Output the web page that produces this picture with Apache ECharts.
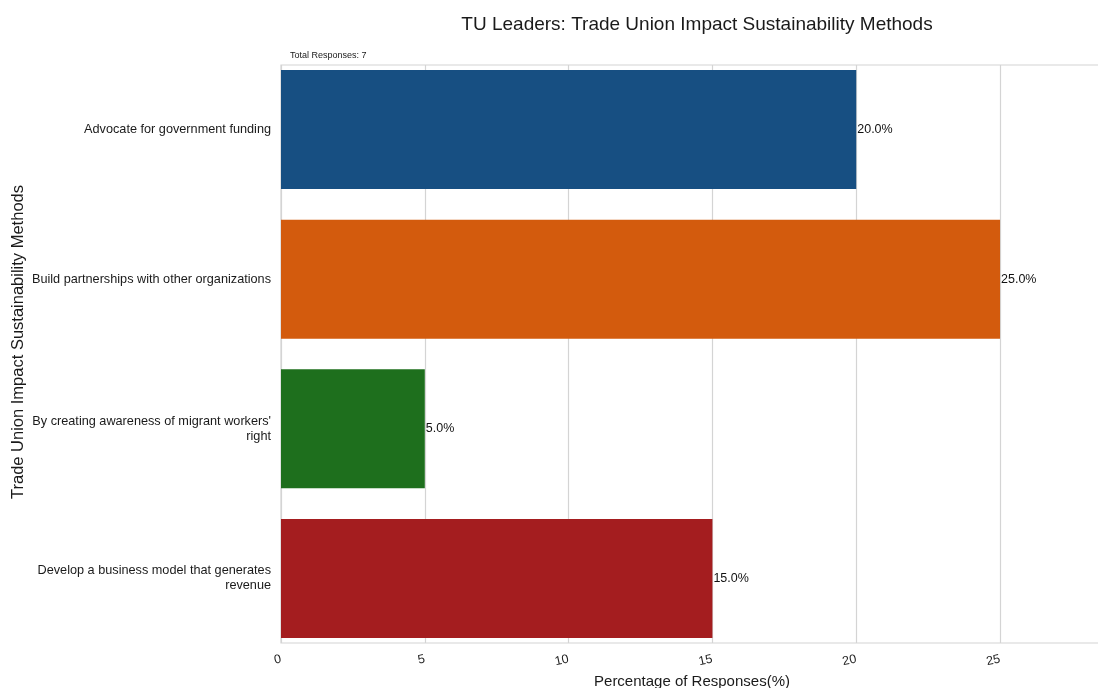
<!DOCTYPE html>
<html>
<head>
<meta charset="utf-8">
<script src="https://cdn.jsdelivr.net/npm/echarts@6/dist/echarts.min.js"></script>
<style>
  html, body { margin: 0; padding: 0; background: #ffffff; }
  #chart { width: 1098px; height: 688px; }
</style>
</head>
<body>
<div id="chart"></div>
<script>
// Survey answers and their share of responses
const methods = [
  'Advocate for government funding',
  'Build partnerships with other organizations',
  "By creating awareness of migrant workers' right",
  'Develop a business model that generates revenue'
];
const percentages = [20.0, 25.0, 5.0, 15.0];
const barColors = ['#174f82', '#d35b0d', '#1e6f1d', '#a41d1f'];
const xTicks = [0, 5, 10, 15, 20, 25];
const totalResponses = 7;

// Wrap long category names onto several lines (word boundaries, max 45 chars)
function wrap(text, width) {
  const words = text.split(' ');
  const lines = [];
  let line = '';
  words.forEach(w => {
    const candidate = line ? line + ' ' + w : w;
    if (candidate.length > width && line) {
      lines.push(line);
      line = w;
    } else {
      line = candidate;
    }
  });
  if (line) lines.push(line);
  return lines.join('\n');
}

const chart = echarts.init(document.getElementById('chart'), null, { renderer: 'canvas' });
const font = 'Liberation Sans, Arial, Helvetica, sans-serif';
const xMax = 28.58;

chart.setOption({
  animation: false,
  backgroundColor: '#ffffff',
  textStyle: { fontFamily: font },
  title: [
    {
      text: 'TU Leaders: Trade Union Impact Sustainability Methods',
      left: 692, top: 10, textAlign: 'center',
      textStyle: { fontSize: 19, fontWeight: 'normal', color: '#1a1a1a', fontFamily: font }
    },
    {
      text: 'Total Responses: ' + totalResponses,
      left: 285, top: 46,
      textStyle: { fontSize: 9, fontWeight: 'normal', color: '#1a1a1a', fontFamily: font }
    }
  ],
  // vertical axis title
  graphic: [{
    type: 'text',
    x: 18, y: 342,
    rotation: Math.PI / 2,
    style: {
      text: 'Trade Union Impact Sustainability Methods',
      fontSize: 16.5, fontFamily: font, fill: '#1a1a1a',
      align: 'center', verticalAlign: 'middle'
    }
  }],
  grid: [
    // frame, gridlines and value ticks
    {
      left: 281, top: 65, right: -5, bottom: 45,
      outerBoundsMode: 'none', containLabel: false,
      show: true, borderColor: '#d4d4d4', borderWidth: 1.2, backgroundColor: 'transparent'
    },
    // bars: categories spaced a little wider than the frame
    {
      left: 281, top: 54.7, right: -5, bottom: 34.7,
      outerBoundsMode: 'none', containLabel: false,
      show: false
    }
  ],
  xAxis: [
    {
      gridIndex: 0,
      type: 'value',
      min: 0, max: xMax, interval: 5,
      name: 'Percentage of Responses(%)',
      nameLocation: 'middle', nameGap: 31,
      nameTextStyle: { fontSize: 15, color: '#1a1a1a', fontFamily: font },
      axisLine: { show: false },
      axisTick: { show: false },
      axisLabel: {
        fontSize: 12.5, color: '#222', rotate: 12, margin: 16,
        fontFamily: font,
        customValues: xTicks,
        formatter: v => String(v)
      },
      splitLine: { show: true, lineStyle: { color: '#d4d4d4', width: 1.2 } }
    },
    {
      gridIndex: 1,
      type: 'value',
      min: 0, max: xMax,
      show: false
    }
  ],
  yAxis: [
    {
      gridIndex: 0,
      type: 'value', min: 0, max: 1,
      show: false
    },
    {
      gridIndex: 1,
      type: 'category',
      data: methods,
      inverse: true,
      axisLine: { show: false },
      axisTick: { show: false },
      axisLabel: {
        fontSize: 12.7, color: '#1a1a1a', margin: 10, fontFamily: font,
        align: 'right', lineHeight: 15,
        formatter: v => wrap(v, 45)
      },
      splitLine: { show: false }
    }
  ],
  series: [{
    type: 'bar',
    xAxisIndex: 1,
    yAxisIndex: 1,
    data: percentages.map((v, i) => ({ value: v, itemStyle: { color: barColors[i] } })),
    barCategoryGap: '20.5%',
    label: {
      show: true, position: 'right', distance: 1,
      fontSize: 12.5, color: '#111', fontFamily: font,
      formatter: p => p.value.toFixed(1) + '%'
    }
  }]
});
</script>
</body>
</html>
